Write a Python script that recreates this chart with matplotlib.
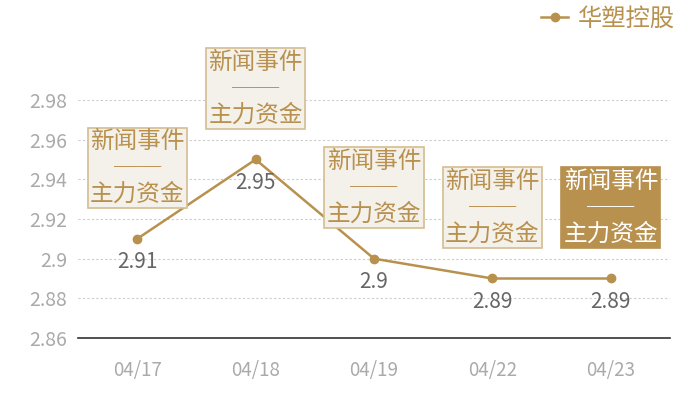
import matplotlib
matplotlib.use('Agg')
import matplotlib.pyplot as plt

plt.rcParams['font.family'] = ['Noto Sans CJK SC', 'DejaVu Sans']

dates = ['04/17', '04/18', '04/19', '04/22', '04/23']
prices = [2.91, 2.95, 2.90, 2.89, 2.89]
yticks = [2.86, 2.88, 2.90, 2.92, 2.94, 2.96, 2.98]
ytick_labels = ['2.86', '2.88', '2.9', '2.92', '2.94', '2.96', '2.98']
event_text = '新闻事件\n──\n主力资金'
series_name = '华塑控股'

gold = '#b8914e'

fig = plt.figure(figsize=(7, 4), dpi=100)
ax = fig.add_axes([78 / 700, 62 / 400, 592 / 700, 238 / 400])

x = list(range(len(dates)))
ax.plot(x, prices, color=gold, lw=1.8, marker='o', ms=6, label=series_name, zorder=3)

for i, p in enumerate(prices):
    ax.annotate(f'{p:g}', (i, p), xytext=(0, -17), textcoords='offset points',
                ha='center', va='center', fontsize=15, color='#666666')
    last = i == len(prices) - 1
    ax.annotate(event_text, (i, p), xytext=(0, 51), textcoords='offset points',
                ha='center', va='center', fontsize=17, linespacing=1.2,
                color='white' if last else gold,
                bbox=dict(boxstyle='square,pad=0.1',
                          fc=gold if last else '#f4f0ea',
                          ec=gold if last else '#d4bd91', lw=1.2),
                annotation_clip=False, zorder=4)

ax.set_xlim(-0.5, len(dates) - 0.5)
ax.set_ylim(2.86, 2.98)
ax.set_xticks(x)
ax.set_xticklabels(dates)
ax.set_yticks(yticks)
ax.set_yticklabels(ytick_labels)
ax.tick_params(length=0, colors='#aaaaaa', labelsize=14, pad=8)
ax.tick_params(axis='x', pad=16, labelsize=13.5)
ax.grid(axis='y', color='#cccccc', ls=(0, (2, 2)), lw=0.8)
for s in ['top', 'right', 'left']:
    ax.spines[s].set_visible(False)
ax.spines['bottom'].set_color('#333333')
ax.spines['bottom'].set_linewidth(1.2)

leg = ax.legend(loc='upper right', bbox_to_anchor=(1.045, 1.49), frameon=False,
                fontsize=17.5, labelcolor=gold, handlelength=1.1, handletextpad=0.4)

fig.savefig('out.png', dpi=100)
